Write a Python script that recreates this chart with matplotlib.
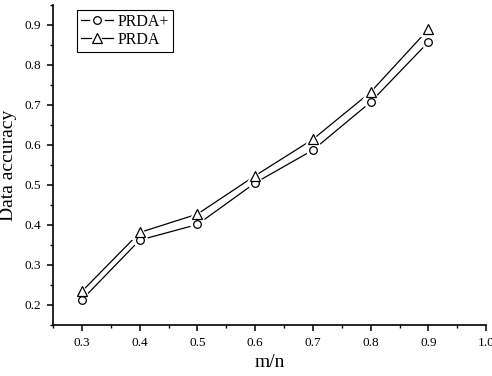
import matplotlib
matplotlib.use("Agg")
import matplotlib.pyplot as plt
from matplotlib.legend_handler import HandlerTuple
from matplotlib.ticker import MultipleLocator

ratios = [0.3, 0.4, 0.5, 0.6, 0.7, 0.8, 0.9]
prda_plus = [0.213, 0.362, 0.401, 0.505, 0.587, 0.707, 0.857]
prda = [0.234, 0.381, 0.427, 0.523, 0.614, 0.732, 0.889]

plt.rcParams["font.family"] = ["Liberation Serif", "DejaVu Serif"]

fig = plt.figure(figsize=(4.92, 3.76), dpi=100)
ax = fig.add_axes([0.108, 0.136, 0.880, 0.851])

handles = []
for vals, marker, size in [(prda_plus, "o", 5.5), (prda, "^", 7)]:
    ln, = ax.plot(ratios, vals, color="black", lw=0.9, zorder=2)
    gap, = ax.plot(ratios, vals, ls="none", marker=marker, ms=size + 3.5, mfc="white",
                   mec="white", mew=1.5, zorder=3)
    mk, = ax.plot(ratios, vals, ls="none", marker=marker, ms=size, mfc="white",
                  mec="black", mew=0.9, zorder=4)
    handles.append((ln, gap, mk))

ax.legend(handles, ["PRDA+", "PRDA"], handler_map={tuple: HandlerTuple(ndivide=1)},
          loc="upper left", bbox_to_anchor=(0.055, 0.985), fancybox=False,
          edgecolor="black", framealpha=1, fontsize=11.5, handlelength=2.0,
          handletextpad=0.3, borderpad=0.25, labelspacing=0.15, borderaxespad=0)
ax.get_legend().get_frame().set_linewidth(0.8)

ax.set_xlim(0.25, 1.0)
ax.set_ylim(0.15, 0.95)
ax.xaxis.set_minor_locator(MultipleLocator(0.05))
ax.yaxis.set_minor_locator(MultipleLocator(0.05))
ax.set_xticks([0.3, 0.4, 0.5, 0.6, 0.7, 0.8, 0.9, 1.0])
ax.set_xticklabels(["0.3", "0.4", "0.5", "0.6", "0.7", "0.8", "0.9", "1.0"])
ax.set_yticks([0.2, 0.3, 0.4, 0.5, 0.6, 0.7, 0.8, 0.9])
ax.set_yticklabels(["0.2", "0.3", "0.4", "0.5", "0.6", "0.7", "0.8", "0.9"])

for side in ["top", "right"]:
    ax.spines[side].set_visible(False)
for side in ["left", "bottom"]:
    ax.spines[side].set_linewidth(1.2)

ax.tick_params(which="major", direction="out", length=4, width=1.1, labelsize=9.5, pad=5)
ax.tick_params(which="minor", direction="out", length=2.5, width=1.0)

ax.set_xlabel("m/n", fontsize=14, labelpad=3)
ax.set_ylabel("Data accuracy", fontsize=14, labelpad=5)

fig.savefig("out.png", dpi=100)
